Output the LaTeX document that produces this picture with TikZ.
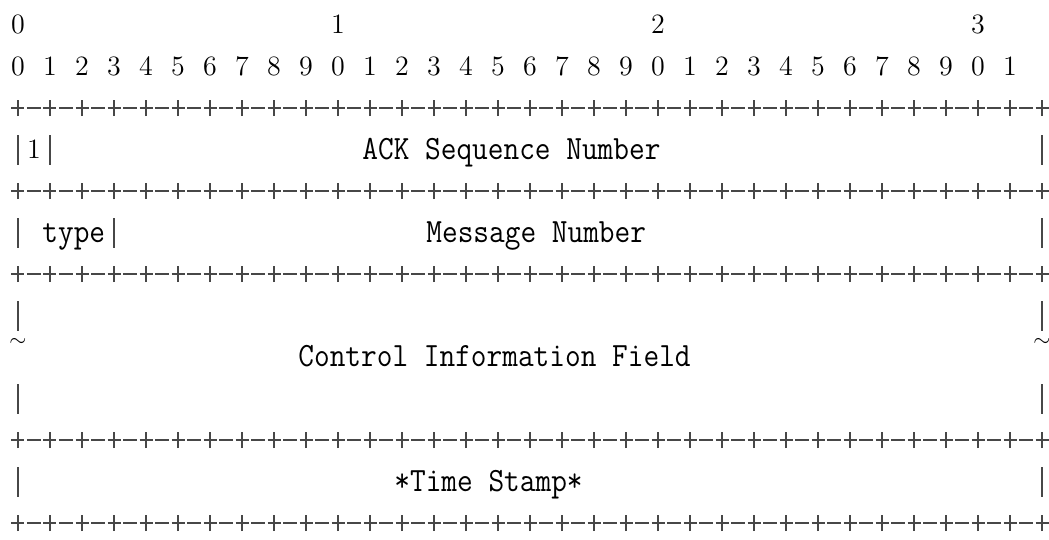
\documentclass[tikz,border=0pt]{standalone}
\usepackage{fontspec}
\usepackage{tikz}
\newcommand{\narrow}[1]{\scalebox{0.896}[1]{#1}}

\begin{document}
\begin{tikzpicture}[x=8pt,y=20.75pt,
  rule/.style={black!72,line width=0.65pt},
  digit/.style={inner sep=0pt,anchor=base,yshift=-4.5pt,font=\fontsize{14}{16}\selectfont},
  field/.style={inner sep=0pt,anchor=base west,yshift=-4.75pt,font=\ttfamily\fontsize{17}{19}\selectfont},
  wave/.style={inner sep=0pt,yshift=7.5pt,font=\fontsize{11}{11}\selectfont}]
\path[use as bounding box] (-1.125,0.6024) rectangle (64.4375,-12.4096);
% bit ruler
\node[digit] (top0) at (0,0) {0};
\node[digit] (top1) at (20,0) {1};
\node[digit] (top2) at (40,0) {2};
\node[digit] (top3) at (60,0) {3};
\foreach \i in {0,...,31} {
  \pgfmathtruncatemacro\d{mod(\i,10)}
  \node[digit] (bit\i) at (2*\i,-1) {\d};
}
% +-+-+ borders
\foreach \r in {2,4,6,10,12} {
  \foreach \c in {0,2,...,64}
    \draw[rule] (\c,-\r) +(-3.25pt,0) -- +(3.25pt,0) +(0,-4pt) -- +(0,4pt);
  \foreach \c in {1,3,...,63}
    \draw[rule] (\c,-\r) +(-3.5pt,0) -- +(3.5pt,0);
}
% | bars
\foreach \r/\c in {3/0,3/2,3/64,5/0,5/6,5/64,7/0,7/64,9/0,9/64,11/0,11/64}
  \draw[rule] (\c,-\r) +(0,-7.5pt) -- +(0,7.5pt);
% fields
\node[digit] (flag) at (1,-3) {1};
\node[field] (ack) at (21.5,-3) {\narrow{ACK Sequence Number}};
\node[field] (type) at (1.5,-5) {\narrow{type}};
\node[field] (msg) at (25.5,-5) {\narrow{Message Number}};
\node[wave] (cutl) at (0,-8) {$\sim$};
\node[field] (ctrl) at (17.5,-8) {\narrow{Control Information Field}};
\node[wave] (cutr) at (64,-8) {$\sim$};
\node[field] (stamp) at (23.5,-11) {\narrow{*Time Stamp*}};
\end{tikzpicture}
\end{document}
